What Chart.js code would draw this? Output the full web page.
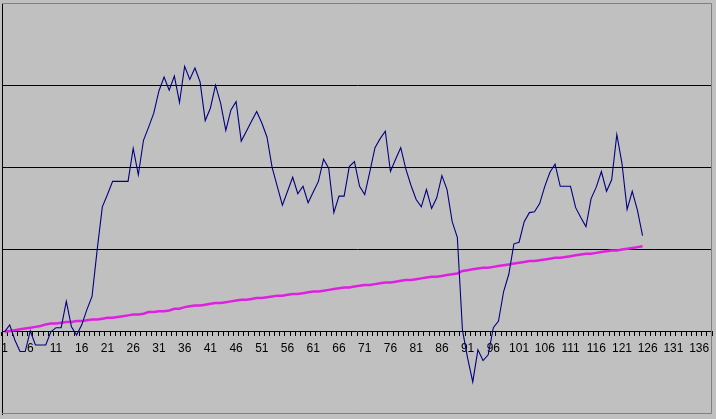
<!DOCTYPE html>
<html>
<head>
<meta charset="utf-8">
<script src="https://cdn.jsdelivr.net/npm/chart.js@4.4.1/dist/chart.umd.min.js"></script>
<style>
  html, body { margin: 0; padding: 0; background: #C0C0C0; }
  canvas { display: block; }
</style>
</head>
<body>
<canvas id="c" width="716" height="419"></canvas>
<script>
// Category labels 1..138
const categories = Array.from({ length: 138 }, (_, i) => String(i + 1));

// Navy series (125 points)
const navySeries = [
  0, 0.085, -0.10, -0.24, -0.24, 0.01, -0.16, -0.16, -0.16, 0,
  0.05, 0.05, 0.37, 0.06, -0.04, 0.085, 0.27, 0.43, 1.0, 1.52,
  1.67, 1.83, 1.83, 1.83, 1.83, 2.23, 1.91, 2.33, 2.49, 2.66,
  2.93, 3.10, 2.94, 3.11, 2.79, 3.23, 3.07, 3.21, 3.04, 2.57,
  2.72, 3.0, 2.78, 2.45, 2.70, 2.80, 2.32, 2.44, 2.56, 2.68,
  2.54, 2.37, 2.0, 1.77, 1.54, 1.71, 1.88, 1.68, 1.77, 1.57,
  1.70, 1.83, 2.10, 1.99, 1.45, 1.65, 1.65, 2.01, 2.07, 1.77,
  1.67, 1.95, 2.24, 2.35, 2.44, 1.95, 2.10, 2.24, 1.98, 1.78,
  1.61, 1.52, 1.73, 1.50, 1.63, 1.90, 1.73, 1.34, 1.15, 0.02,
  -0.32, -0.61, -0.22, -0.35, -0.28, 0.05, 0.13, 0.49, 0.70, 1.07,
  1.09, 1.34, 1.45, 1.46, 1.56, 1.77, 1.94, 2.04, 1.77, 1.77,
  1.77, 1.51, 1.39, 1.28, 1.62, 1.76, 1.95, 1.71, 1.85, 2.40,
  2.05, 1.49, 1.71, 1.48, 1.17
];

// Magenta series (125 points)
const magentaSeries = [
  0, 0.01, 0.02, 0.03, 0.04, 0.05, 0.06, 0.07, 0.09, 0.10,
  0.10, 0.11, 0.12, 0.12, 0.13, 0.13, 0.14, 0.15, 0.15, 0.16,
  0.17, 0.17, 0.18, 0.19, 0.20, 0.21, 0.21, 0.22, 0.24, 0.24,
  0.25, 0.25, 0.26, 0.28, 0.28, 0.30, 0.31, 0.32, 0.32, 0.33,
  0.34, 0.35, 0.35, 0.36, 0.37, 0.38, 0.39, 0.39, 0.40, 0.41,
  0.41, 0.42, 0.43, 0.44, 0.44, 0.45, 0.46, 0.46, 0.47, 0.48,
  0.49, 0.49, 0.50, 0.51, 0.52, 0.53, 0.54, 0.54, 0.55, 0.56,
  0.57, 0.57, 0.58, 0.59, 0.60, 0.60, 0.61, 0.62, 0.63, 0.63,
  0.64, 0.65, 0.66, 0.67, 0.67, 0.68, 0.69, 0.70, 0.71, 0.74,
  0.75, 0.76, 0.77, 0.78, 0.78, 0.79, 0.80, 0.81, 0.82, 0.83,
  0.84, 0.85, 0.86, 0.86, 0.87, 0.88, 0.89, 0.90, 0.90, 0.91,
  0.92, 0.93, 0.94, 0.95, 0.95, 0.96, 0.97, 0.98, 0.99, 0.99,
  1.00, 1.01, 1.02, 1.03, 1.04
];

// Y gridline values drawn in black
const yGridValues = [1, 2, 3];
const yMin = -1, yMax = 4;

const plotFrame = {
  id: 'plotFrame',
  beforeDraw(chart) {
    const c = chart.ctx;
    c.save();
    c.fillStyle = '#C0C0C0';
    c.fillRect(0, 0, chart.width, chart.height);
    c.restore();
  },
  afterDraw(chart) {
    const a = chart.chartArea;
    const c = chart.ctx;
    c.save();
    c.strokeStyle = '#808080';
    c.lineWidth = 1;
    c.beginPath();
    c.moveTo(a.left, a.top + 0.5);
    c.lineTo(a.right - 0.5, a.top + 0.5);
    c.lineTo(a.right - 0.5, a.bottom - 0.5);
    c.lineTo(a.left, a.bottom - 0.5);
    c.stroke();
    c.restore();
  }
};

new Chart(document.getElementById('c'), {
  type: 'line',
  data: {
    labels: categories,
    datasets: [
      {
        data: navySeries,
        borderColor: '#000080',
        borderWidth: 1.1,
        pointRadius: 0,
        tension: 0,
        fill: false
      },
      {
        data: magentaSeries,
        borderColor: '#E020E0',
        borderWidth: 2.5,
        pointRadius: 0,
        tension: 0,
        fill: false
      }
    ]
  },
  options: {
    responsive: false,
    animation: false,
    devicePixelRatio: 1,
    layout: { padding: { left: 2, top: 3, right: 4, bottom: 5 } },
    plugins: { legend: { display: false }, tooltip: { enabled: false } },
    scales: {
      x: {
        position: { y: 0 },
        offset: true,
        afterFit: (scale) => { scale.paddingLeft = 0; scale.paddingRight = 0; },
        grid: {
          display: true,
          drawOnChartArea: false,
          drawTicks: true,
          tickLength: 4,
          offset: true,
          color: '#000000'
        },
        border: { display: true, color: '#000000', width: 1 },
        ticks: {
          autoSkip: false,
          maxRotation: 0,
          minRotation: 0,
          padding: 6,
          color: '#000000',
          font: { family: "'Liberation Sans Narrow', 'Liberation Sans', Arial, sans-serif", size: 12 },
          callback: function (val, idx) { return idx % 5 === 0 ? this.getLabelForValue(val) : ''; }
        }
      },
      y: {
        min: yMin,
        max: yMax,
        ticks: { display: false, stepSize: 1 },
        grid: {
          drawTicks: false,
          color: (ctx) => yGridValues.includes(ctx.tick && ctx.tick.value) ? '#000000' : 'rgba(0,0,0,0)'
        },
        border: { display: true, color: '#000000', width: 1 }
      }
    }
  },
  plugins: [plotFrame]
});
</script>
</body>
</html>
